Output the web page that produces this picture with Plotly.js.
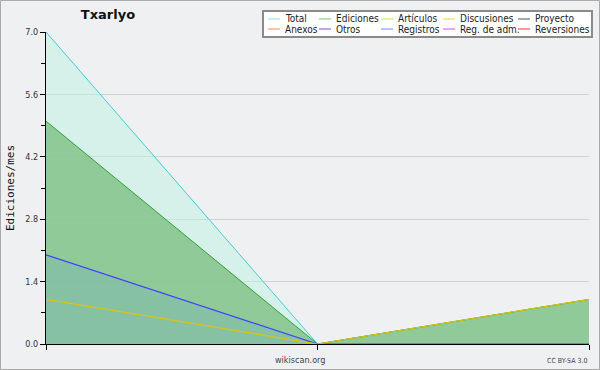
<!DOCTYPE html>
<html><head><meta charset="utf-8">
<script src="https://cdn.plot.ly/plotly-3.0.1.min.js"></script>
<style>html,body{margin:0;padding:0;background:#eff0f2}#chart{width:600px;height:370px}</style>
</head><body><div id="chart"></div>
<script>
// Data
const months = [0, 1, 2];
const total = [7, 0, 1];
const ediciones = [5, 0, 1];
const registros = [2, 0, 0];
const discusiones = [1, 0, 1];

const legendNames = ["Total","Ediciones","Artículos","Discusiones","Proyecto","Anexos","Otros","Registros","Reg. de adm.","Reversiones"];
const legendColors = ["#8ee0e0","#74c474","#c4ec3c","#ffcc33","#555555","#ff8844","#8844dd","#7f7fff","#dd44ee","#ff3333"];
const yTicks = [0, 1.4, 2.8, 4.2, 5.6, 7.0];
const yTickText = ["0.0","1.4","2.8","4.2","5.6","7.0"];

const L = 46, R = 589, T = 32, B = 344, W = 600, H = 370;
const pw = R - L, ph = B - T;
const px = v => (v - L) / pw;
const py = v => (B - v) / ph;
const legFont = "'DejaVu Sans Condensed', 'DejaVu Sans', sans-serif";

const traces = [
  {x: months, y: total, mode: 'lines', fill: 'tozeroy', fillcolor: 'rgba(190,240,225,0.5)', line: {color: '#3fcfcf', width: 1}, name: 'Total'},
  {x: months, y: ediciones, mode: 'lines', fill: 'tozeroy', fillcolor: 'rgba(120,190,125,0.75)', line: {color: '#33a033', width: 1}, name: 'Ediciones'},
  {x: months, y: registros, mode: 'lines', fill: 'tozeroy', fillcolor: 'rgba(60,120,255,0.1)', line: {color: '#3f3fff', width: 1.2}, name: 'Registros'},
  {x: months, y: discusiones, mode: 'lines', line: {color: '#e0c010', width: 1.2}, name: 'Discusiones'}
];

const shapes = [];
const annotations = [];
// border around whole image
shapes.push({type: 'rect', xref: 'paper', yref: 'paper', x0: px(0.5), x1: px(W - 0.5), y0: py(0.5), y1: py(H - 0.5), line: {color: '#aaaaaa', width: 1}, fillcolor: 'rgba(0,0,0,0)', layer: 'below'});
// legend box
shapes.push({type: 'rect', xref: 'paper', yref: 'paper', x0: px(263), x1: px(592), y0: py(11), y1: py(37), line: {color: '#8a8a8a', width: 2}, fillcolor: '#ffffff'});
const colX = [268, 319, 381, 443, 518];
const rowY = [19, 29];
legendNames.forEach((n, i) => {
  const c = i % 5, r = Math.floor(i / 5);
  shapes.push({type: 'line', xref: 'paper', yref: 'paper', x0: px(colX[c]), x1: px(colX[c] + 12), y0: py(rowY[r]), y1: py(rowY[r]), line: {color: legendColors[i], width: 1}});
  annotations.push({xref: 'paper', yref: 'paper', x: px(colX[c] + 15), y: py(rowY[r]), xanchor: 'left', yanchor: 'middle', text: n, showarrow: false, font: {family: legFont, size: 10, color: '#222'}});
});
annotations.push({xref: 'paper', yref: 'paper', x: px(300), y: py(360), xanchor: 'center', yanchor: 'middle', text: 'wikiscan.org', showarrow: false, font: {family: legFont, size: 9, color: '#444'}});
annotations.push({xref: 'paper', yref: 'paper', x: px(589), y: py(361), xanchor: 'right', yanchor: 'middle', text: 'CC BY-SA 3.0', showarrow: false, font: {family: legFont, size: 7, color: '#444'}});

const layout = {
  width: W, height: H,
  margin: {l: L, r: W - R, t: T, b: H - B, pad: 0},
  paper_bgcolor: '#eff0f2', plot_bgcolor: '#eff0f2',
  showlegend: false,
  title: {text: '<b>Txarlyo</b>', x: 108 / W, xanchor: 'center', y: 1 - 14 / H, yanchor: 'middle', font: {family: 'DejaVu Sans', size: 13, color: '#111'}},
  xaxis: {range: [0, 2], tickvals: months, ticktext: ['', '', ''], ticks: 'outside', ticklen: 5, tickcolor: '#000', showgrid: false, zeroline: false, showline: true, linecolor: '#000', linewidth: 1, fixedrange: true},
  yaxis: {range: [0, 7], tickvals: yTicks, ticktext: yTickText, ticks: 'outside', ticklen: 5, tickcolor: '#000', showline: true, linecolor: '#000', linewidth: 1, gridcolor: '#d2d2d4', zeroline: false,
    tickfont: {family: legFont, size: 9, color: '#333'},
    minor: {dtick: 0.7, tick0: 0, ticks: 'outside', ticklen: 4, tickcolor: '#000', showgrid: false},
    title: {text: 'Ediciones/mes', font: {family: 'DejaVu Sans Mono', size: 11, color: '#111'}, standoff: 8}},
  shapes: shapes,
  annotations: annotations
};
Plotly.newPlot('chart', traces, layout, {staticPlot: true});
</script></body></html>
